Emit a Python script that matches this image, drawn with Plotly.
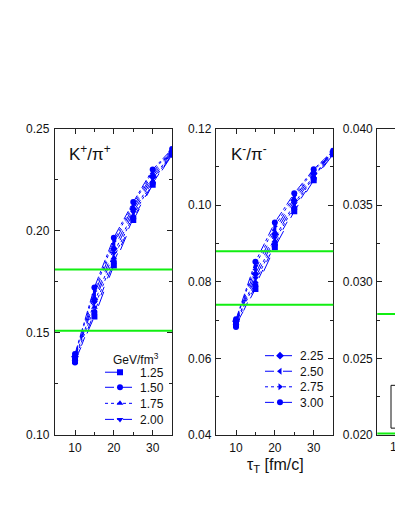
import plotly.graph_objects as go

W, H = 395, 511

tau = [10, 15, 20, 25, 30, 35]
energy_labels = ["1.25", "1.50", "1.75", "2.00", "2.25", "2.50", "2.75", "3.00"]

# K+/pi+
kp_125 = [0.1362, 0.1580, 0.1830, 0.2052, 0.2225, 0.2372]
kp_150 = [0.1355, 0.1602, 0.1848, 0.2060, 0.2232, 0.2376]
kp_175 = [0.1370, 0.1625, 0.1868, 0.2075, 0.2242, 0.2380]
kp_200 = [0.1378, 0.1648, 0.1890, 0.2090, 0.2255, 0.2384]
kp_225 = [0.1383, 0.1665, 0.1912, 0.2105, 0.2268, 0.2388]
kp_250 = [0.1388, 0.1688, 0.1935, 0.2118, 0.2280, 0.2392]
kp_275 = [0.1392, 0.1705, 0.1950, 0.2130, 0.2290, 0.2396]
kp_300 = [0.1396, 0.1722, 0.1966, 0.2140, 0.2300, 0.2400]

# K-/pi-
km_125 = [0.0688, 0.0781, 0.0890, 0.0984, 0.1065, 0.1133]
km_150 = [0.0682, 0.0790, 0.0898, 0.0990, 0.1069, 0.1135]
km_175 = [0.0692, 0.0800, 0.0907, 0.0997, 0.1074, 0.1136]
km_200 = [0.0695, 0.0810, 0.0915, 0.1004, 0.1078, 0.1138]
km_225 = [0.0697, 0.0820, 0.0925, 0.1012, 0.1083, 0.1139]
km_250 = [0.0699, 0.0832, 0.0935, 0.1019, 0.1087, 0.1140]
km_275 = [0.0700, 0.0842, 0.0945, 0.1025, 0.1090, 0.1141]
km_300 = [0.0702, 0.0852, 0.0955, 0.1031, 0.1094, 0.1142]

# experimental bands (green lines)
exp_kp = [0.151, 0.181]
exp_km = [0.074, 0.088]
exp_p3 = [0.0201, 0.0279]

kp_series = [kp_125, kp_150, kp_175, kp_200, kp_225, kp_250, kp_275, kp_300]
km_series = [km_125, km_150, km_175, km_200, km_225, km_250, km_275, km_300]

symbols = ["square", "circle", "triangle-up", "triangle-down",
           "diamond", "triangle-left", "triangle-right", "circle"]
dashes = ["longdash", "dash", "dot", "dashdot",
          "dash", "dash", "dot", "dashdot"]
legend_ids = ["legend", "legend2", "legend3", "legend4",
              "legend5", "legend6", "legend7", "legend8"]

BLUE = "#0000FF"
GREEN = "#11EE11"
FONT = "Liberation Sans, Arial, sans-serif"

def px_x(p):
    return p / W

def px_y(p):
    return (H - p) / H

fig = go.Figure()

for i in range(8):
    for xa, ya, ser, show in (("x", "y", kp_series, True), ("x2", "y2", km_series, False)):
        fig.add_trace(go.Scatter(
            x=tau, y=ser[i], xaxis=xa, yaxis=ya,
            mode="lines+markers",
            name=energy_labels[i],
            line=dict(color=BLUE, width=1, dash=dashes[i]),
            marker=dict(color=BLUE, symbol=symbols[i], size=6),
            showlegend=show,
            legend=legend_ids[i],
        ))

ydom = [px_y(440), px_y(125)]
x1dom = [px_x(55), px_x(172.3)]
x2dom = [px_x(216), px_x(333.3)]
x3dom = [px_x(377.3), 1.0]
xr = [4.85, 35.05]
pxu = (172.3 - 55) / (xr[1] - xr[0])
xr3 = [xr[0], xr[0] + (W - 377.3) / pxu]

axis_common = dict(showline=True, linecolor="#222", linewidth=1.3,
                   ticks="inside", ticklen=5, tickwidth=1, tickcolor="#222",
                   showgrid=False, zeroline=False,
                   tickfont=dict(family=FONT, size=12, color="#111"))

xcommon = dict(axis_common, range=xr, tickvals=[10, 20, 30], mirror="allticks",
               ticklabelstandoff=2,
               minor=dict(tickvals=[15, 25], ticks="inside", ticklen=3,
                          tickcolor="#222", showgrid=False))

fig.update_layout(
    xaxis=dict(xcommon, domain=x1dom, anchor="y"),
    xaxis2=dict(xcommon, domain=x2dom, anchor="y2"),
    xaxis3=dict(xcommon, domain=x3dom, anchor="y3", range=xr3),
    yaxis=dict(axis_common, domain=ydom, anchor="x", range=[0.10, 0.25],
               dtick=0.05, tick0=0.10, tickformat=".2f", mirror="allticks", ticklabelstandoff=2,
               minor=dict(dtick=0.025, ticks="inside", ticklen=3, tickcolor="#222", showgrid=False)),
    yaxis2=dict(axis_common, domain=ydom, anchor="x2", range=[0.04, 0.12],
                dtick=0.02, tick0=0.04, tickformat=".2f", mirror="allticks", ticklabelstandoff=1,
                minor=dict(dtick=0.01, ticks="inside", ticklen=3, tickcolor="#222", showgrid=False)),
    yaxis3=dict(axis_common, domain=ydom, anchor="x3", range=[0.020, 0.040],
                dtick=0.005, tick0=0.020, tickformat=".3f", mirror=False, ticklabelstandoff=1,
                minor=dict(dtick=0.0025, ticks="inside", ticklen=3, tickcolor="#222", showgrid=False)),
)

# green experimental lines
for xref, yref, vals in (("x domain", "y", exp_kp), ("x2 domain", "y2", exp_km), ("x3 domain", "y3", exp_p3)):
    for v in vals:
        fig.add_shape(type="line", xref=xref, yref=yref, x0=0, x1=1, y0=v, y1=v,
                      line=dict(color=GREEN, width=2), layer="above")

# legends, one entry each
leg_pos = [(100, 375.5), (100, 391), (100, 407.5), (100, 424),
           (260, 358.5), (260, 374.5), (260, 390.5), (260, 406.5)]
for lid, (lx, ly) in zip(legend_ids, leg_pos):
    fig.update_layout({lid: dict(x=px_x(lx), y=px_y(ly), xanchor="left", yanchor="middle",
                                 bgcolor="rgba(0,0,0,0)", borderwidth=0, itemwidth=30,
                                 font=dict(family=FONT, size=12, color="#111"))})

annotations = [
    dict(text="K<sup>+</sup>/π<sup>+</sup>", x=px_x(67), y=px_y(150), xref="paper", yref="paper",
         xanchor="left", yanchor="middle", showarrow=False,
         font=dict(family=FONT, size=17, color="#111")),
    dict(text="K<sup>-</sup>/π<sup>-</sup>", x=px_x(229), y=px_y(150), xref="paper", yref="paper",
         xanchor="left", yanchor="middle", showarrow=False,
         font=dict(family=FONT, size=17, color="#111")),
    dict(text="GeV/fm<sup>3</sup>", x=px_x(111), y=px_y(362), xref="paper", yref="paper",
         xanchor="left", yanchor="middle", showarrow=False,
         font=dict(family=FONT, size=12, color="#111")),
    dict(text="τ<sub>T</sub> [fm/c]", x=px_x(275), y=px_y(471), xref="paper", yref="paper",
         xanchor="center", yanchor="middle", showarrow=False,
         font=dict(family=FONT, size=16, color="#111")),
    dict(text="10", x=px_x(397), y=px_y(452), xref="paper", yref="paper",
         xanchor="center", yanchor="middle", showarrow=False,
         font=dict(family=FONT, size=12, color="#111")),
]
fig.update_layout(annotations=annotations)

# partial legend frame of third panel
fig.add_shape(type="rect", xref="paper", yref="paper", x0=px_x(391), x1=px_x(430),
              y0=px_y(433), y1=px_y(389), line=dict(color="#111", width=1), layer="above")

fig.update_layout(width=W, height=H, margin=dict(l=0, r=0, t=0, b=0),
                  paper_bgcolor="white", plot_bgcolor="white")

fig.write_html("out.html", config={"displayModeBar": False},
               post_script="document.body.style.margin='0px';document.body.style.overflow='hidden';")
